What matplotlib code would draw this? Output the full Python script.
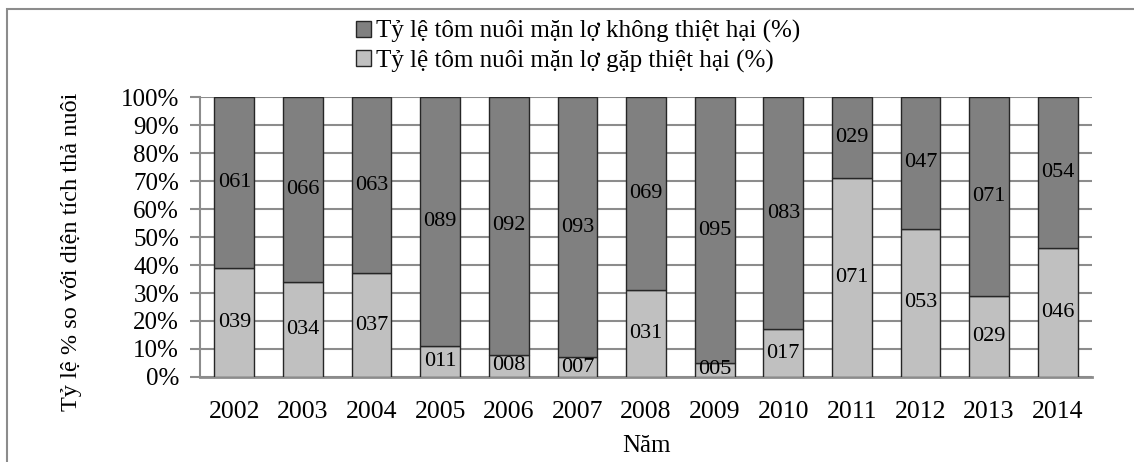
import numpy as np
import matplotlib.pyplot as plt
from matplotlib.patches import Rectangle

years = ['2002', '2003', '2004', '2005', '2006', '2007', '2008',
         '2009', '2010', '2011', '2012', '2013', '2014']
damaged = [39, 34, 37, 11, 8, 7, 31, 5, 17, 71, 53, 29, 46]
not_damaged = [61, 66, 63, 89, 92, 93, 69, 95, 83, 29, 47, 71, 54]

plt.rcParams['font.family'] = ['Liberation Serif', 'DejaVu Serif']

fig = plt.figure(figsize=(11.34, 4.62), dpi=100)
ax = fig.add_axes([0.1764, 0.184, 0.7866, 0.606])

x = np.arange(len(years))
w = 0.58
b1 = ax.bar(x, damaged, w, color='#c0c0c0', edgecolor='#262626', linewidth=1,
            label='Tỷ lệ tôm nuôi mặn lợ gặp thiệt hại (%)', zorder=3)
b2 = ax.bar(x, not_damaged, w, bottom=damaged, color='#808080', edgecolor='#262626',
            linewidth=1, label='Tỷ lệ tôm nuôi mặn lợ không thiệt hại (%)', zorder=3)

for i in range(len(years)):
    ax.text(x[i], damaged[i] / 2, '%03d' % damaged[i], ha='center', va='center',
            fontsize=16, zorder=4)
    ax.text(x[i], damaged[i] + not_damaged[i] / 2, '%03d' % not_damaged[i],
            ha='center', va='center', fontsize=16, zorder=4)

ax.set_xlim(-0.5, len(years) - 0.5)
ax.set_ylim(0, 100)
ax.set_yticks(np.arange(0, 101, 10))
ax.set_yticklabels(['%d%%' % v for v in range(0, 101, 10)], fontsize=18)
ax.set_xticks(x)
ax.set_xticklabels(years, fontsize=18.5)
ax.tick_params(axis='x', length=0, pad=17)
ax.tick_params(axis='y', length=7, width=1.5, color='#8c8c8c', pad=8)
ax.yaxis.grid(True, color='#8c8c8c', linewidth=1.5, zorder=0)
for s in ['top', 'right']:
    ax.spines[s].set_visible(False)
ax.spines['left'].set_color('#8c8c8c')
ax.spines['left'].set_linewidth(1.5)
ax.spines['bottom'].set_color('#8c8c8c')
ax.spines['bottom'].set_linewidth(2)

ax.set_xlabel('Năm', fontsize=18, labelpad=9)
ax.set_ylabel('Tỷ lệ % so với diện tích thả nuôi', fontsize=17.5)
ax.yaxis.set_label_coords(-0.132, 0.446)

fig.legend([b2, b1], [b2.get_label(), b1.get_label()], loc='upper center',
           bbox_to_anchor=(0.51, 0.978), ncol=1, frameon=False, fontsize=18,
           handlelength=0.6, handleheight=0.6, handletextpad=0.2, labelspacing=0.25,
           borderaxespad=0)

fig.patches.append(Rectangle((7 / 1134, -0.1), 1.2, 1 - 9 / 462 + 0.1,
                             transform=fig.transFigure, fill=False,
                             edgecolor='#8c8c8c', linewidth=1.5))

fig.savefig('out.png', dpi=100)
